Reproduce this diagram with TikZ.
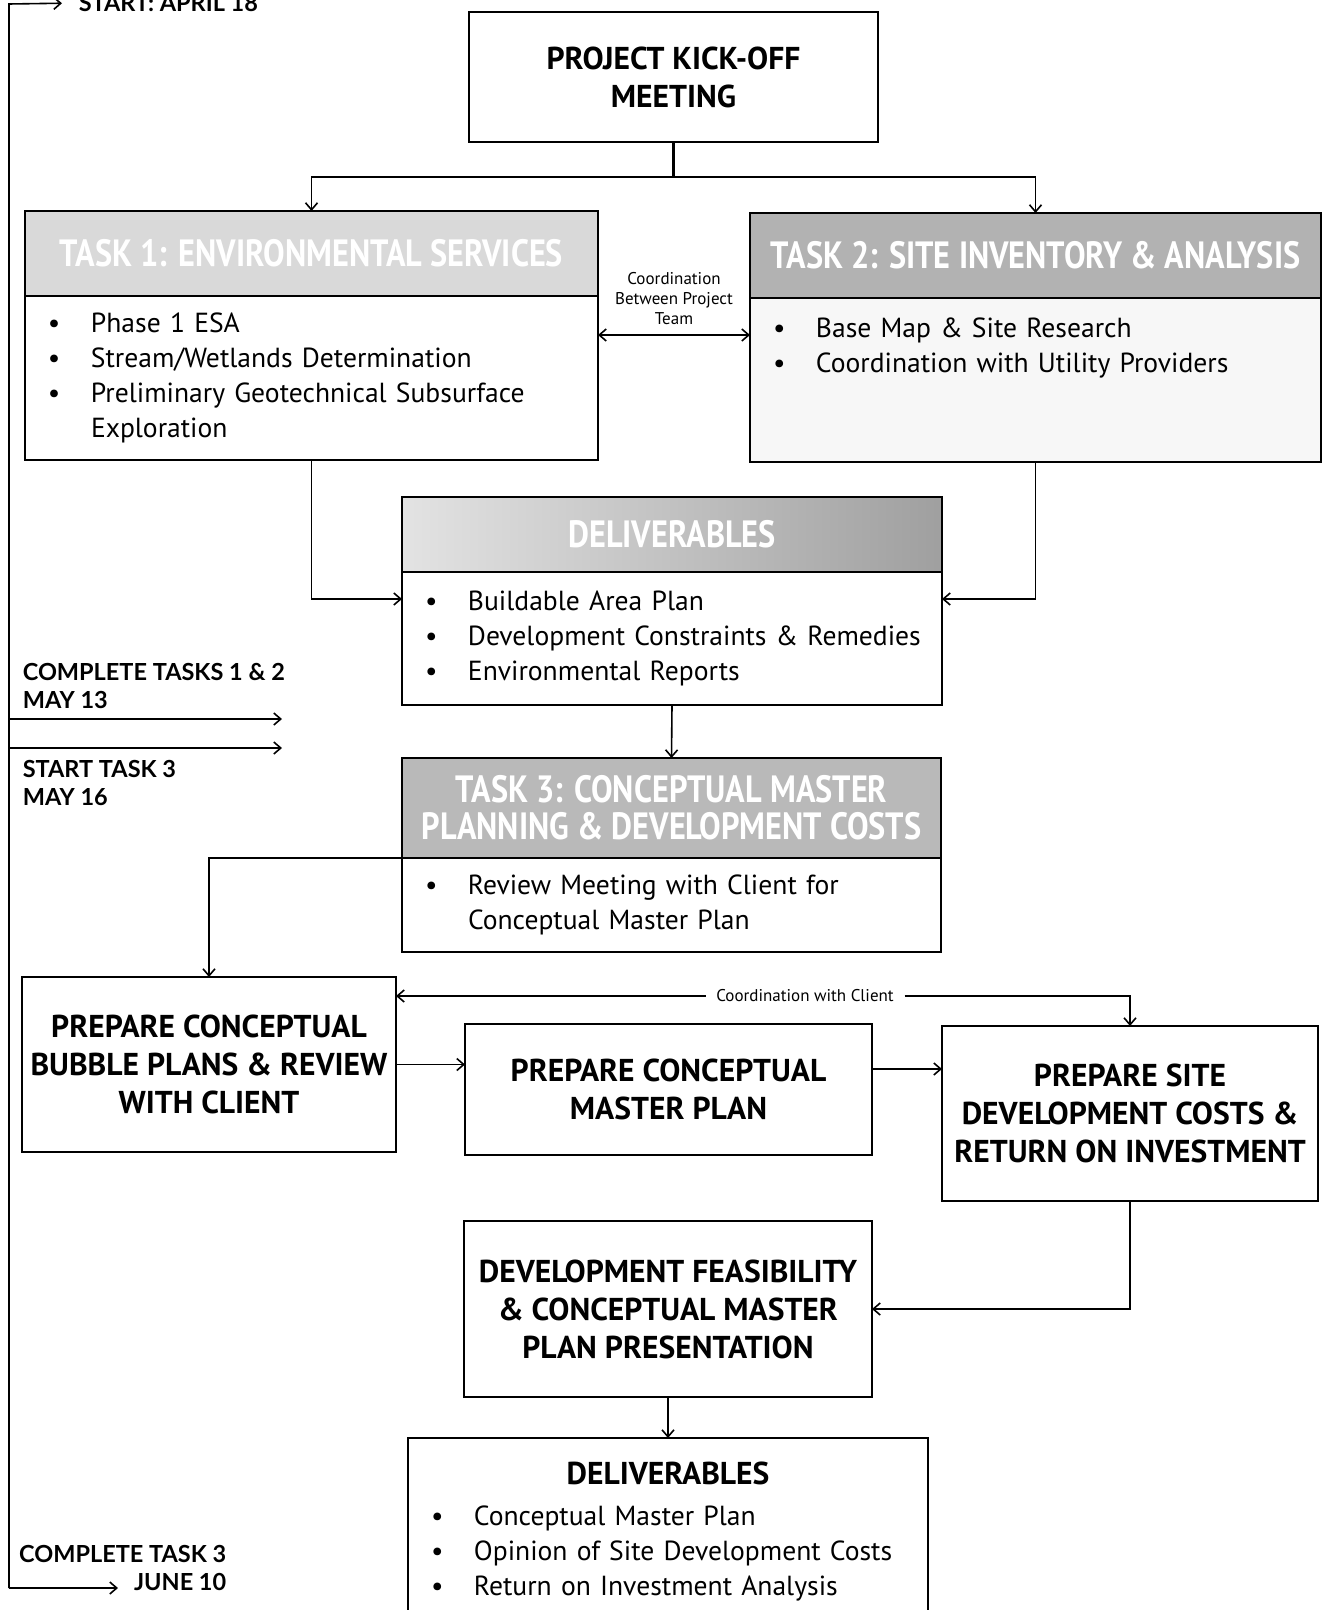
\documentclass[tikz,border=0pt]{standalone}
\usepackage{fontspec}
\setmainfont{PT Sans}
\newfontfamily\headfont[FakeStretch=0.85]{PT Sans}
\newfontfamily\datefont{Lato}
\usetikzlibrary{positioning,arrows.meta}
\newcommand\tightsp{\spaceskip=0.21em plus 0.05em\relax}

\tikzset{
  box/.style={draw,line width=1pt,inner sep=0pt,outer sep=0pt,align=center,
    font=\fontsize{15.8}{19}\selectfont\bfseries},
  head/.style={box,text=white,font=\headfont\fontsize{19}{18.5}\selectfont\bfseries},
  list/.style={draw,line width=1pt,inner sep=0pt,outer sep=0pt,align=left,
    font=\fontsize{13.8}{17.5}\selectfont\tightsp},
  datelbl/.style={inner sep=0pt,font=\datefont\fontsize{11.75}{14}\selectfont\bfseries},
  note/.style={align=center,inner sep=1pt,font=\fontsize{8.5}{10}\selectfont},
  >={Straight Barb[length=3.5pt,width=6pt]},
}

\begin{document}
\begin{tikzpicture}[x=0.5pt,y=-0.5pt,line width=0.8pt]
    \newcommand\bu{\makebox[33pt][l]{\hspace{11.5pt}\textbullet}}
    \newcommand\ind{\hspace*{33pt}}
    \useasboundingbox (0,0) rectangle (1323,1610);

    \node[box,minimum width=204.5pt,minimum height=65pt] (kick) at (673.5,77)
      {PROJECT KICK-OFF\\MEETING};

    % task 1 and task 2
    \node[head,fill=gray!30,minimum width=286.5pt,minimum height=42.5pt] (t1h) at (311.5,253.5)
      {TASK 1: ENVIRONMENTAL SERVICES};
    \node[list,below=0pt of t1h,minimum height=82pt,text width=286.5pt] (t1b)
      {\bu Phase 1 ESA\\\bu Stream/Wetlands Determination\\
       \bu Preliminary Geotechnical Subsurface\\\ind Exploration};
    \node[head,fill=gray!60,minimum width=285.5pt,minimum height=42.5pt] (t2h) at (1035.5,255.5)
      {TASK 2: SITE INVENTORY \& ANALYSIS};
    \node[list,fill=gray!6,below=0pt of t2h,minimum height=82pt,text width=285.5pt] (t2b)
      {\bu Base Map \& Site Research\\\bu Coordination with Utility Providers\\\mbox{}\\\mbox{}};
    \node[note] (coord) at (674,299) {Coordination\\Between Project\\Team};

    % deliverables and task 3
    \node[head,left color=gray!22,middle color=gray!35,right color=gray!75,
      minimum width=270pt,minimum height=37.5pt] (d1h) at (672,534.5) {DELIVERABLES};
    \node[list,below=0pt of d1h,minimum height=66.5pt,text width=270pt] (d1b)
      {\bu Buildable Area Plan\\\bu Development Constraints \& Remedies\\\bu Environmental Reports};
    \node[head,fill=gray!55,minimum width=269.5pt,minimum height=50pt] (t3h) at (671.5,808)
      {TASK 3: CONCEPTUAL MASTER\\PLANNING \& DEVELOPMENT COSTS};
    \node[list,below=0pt of t3h,minimum height=47pt,text width=269.5pt] (t3b)
      {\bu Review Meeting with Client for\\\ind Conceptual Master Plan};

    % task 3 steps
    \node[box,minimum width=187pt,minimum height=87.5pt] (bub) at (209,1064.5)
      {PREPARE CONCEPTUAL\\BUBBLE PLANS \& REVIEW\\WITH CLIENT};
    \node[box,minimum width=203.5pt,minimum height=65.5pt] (mas) at (668.5,1089.5)
      {PREPARE CONCEPTUAL\\MASTER PLAN};
    \node[box,minimum width=188pt,minimum height=87.5pt] (site) at (1130,1113.5)
      {PREPARE SITE\\DEVELOPMENT COSTS \&\\RETURN ON INVESTMENT};
    \node[box,minimum width=204pt,minimum height=88pt] (feas) at (668,1309)
      {DEVELOPMENT FEASIBILITY\\\& CONCEPTUAL MASTER\\PLAN PRESENTATION};
    \node[list,minimum height=93.5pt,text width=260pt] (d2) at (668,1531.5)
      {\makebox[260pt][c]{\fontsize{15.8}{19}\selectfont\bfseries DELIVERABLES}\\[3pt]
       \bu Conceptual Master Plan\\\bu Opinion of Site Development Costs\\
       \bu Return on Investment Analysis};
    \node[note,fill=white,inner xsep=5pt] (cwc) at (805,996) {Coordination with Client};

    \draw[line width=1.5pt] (kick.south) -- ++(0,35) coordinate (split);
    \draw[->] (split) -| (t1h.north);
    \draw[->] (split) -| (t2h.north);
    \coordinate (cj) at (674,335);
    \draw[<->] (t1b.east |- cj) -- (t2b.west |- cj);
    \draw[->] (t1b.south) |- ([yshift=19.75pt]d1b.west);
    \draw[->] (t2b.south) |- ([yshift=19.75pt]d1b.east);
    \draw[->] (d1b.south) -- (t3h.north);
    \draw[->] (t3h.south west) -| (bub.north);
    \draw[->] (bub.east) -- (bub.east -| mas.west);
    \draw[->] ([yshift=10.25pt]mas.east) -- ([yshift=10.25pt]mas.east -| site.west);
    \draw[->] (cwc.west) -- (cwc.west -| bub.east);
    \draw[->] (cwc.east) -| (site.north);
    \draw[->] (site.south) |- (feas.east);
    \draw[->] (feas.south) -- (d2.north);

    % timeline
    \node[datelbl,anchor=west] (start) at (78,3) {START: APRIL 18};
    \node[datelbl,anchor=west,align=left] (done12) at (22,686) {COMPLETE TASKS 1 \& 2\\MAY 13};
    \node[datelbl,anchor=west,align=left] (start3) at (22,783) {START TASK 3\\MAY 16};
    \node[datelbl,anchor=east,align=right] (done3) at (227,1568) {COMPLETE TASK 3\\JUNE 10};
    \coordinate (tltop) at (9,4);
    \coordinate (tlbot) at (9,1588);
    \coordinate (a1) at (282,719);
    \coordinate (a2) at (282,748);
    \coordinate (e3) at (118,1588);
    \draw[->,shorten >=8pt] (tlbot) -- (tltop) -- (start.west);
    \draw[->] (tltop |- a1) -- (a1);
    \draw[->] (tltop |- a2) -- (a2);
    \draw[->] (tlbot) -- (e3);
\end{tikzpicture}
\end{document}
